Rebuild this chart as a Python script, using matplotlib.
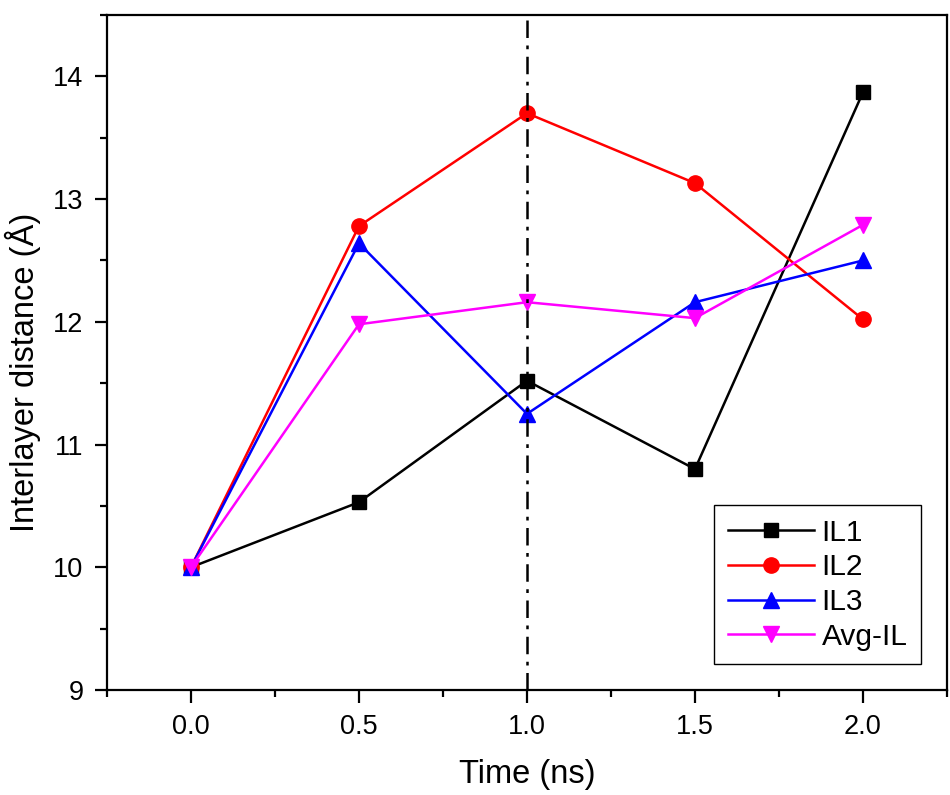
import matplotlib
matplotlib.use('Agg')
import matplotlib.pyplot as plt
from matplotlib.ticker import MultipleLocator, FormatStrFormatter

plt.rcParams['font.family'] = ['Liberation Sans', 'DejaVu Sans']

# data
time_ns = [0.0, 0.5, 1.0, 1.5, 2.0]
il1 = [10.0, 10.53, 11.52, 10.80, 13.87]
il2 = [10.0, 12.78, 13.70, 13.13, 12.02]
il3 = [10.0, 12.64, 11.25, 12.16, 12.50]
avg_il = [10.0, 11.98, 12.16, 12.03, 12.79]
marker_line_x = 1.0

fig = plt.figure(figsize=(9.5, 7.95), dpi=100)
ax = fig.add_axes([0.1126, 0.1321, 0.8842, 0.849])

# vertical dash-dot line
ax.axvline(marker_line_x, color='black', lw=1.8, dashes=(7, 3, 1.5, 3), zorder=5)

ax.plot(time_ns, il1, color='black', marker='s', ms=10, lw=1.8, label='IL1')
ax.plot(time_ns, il2, color='red', marker='o', ms=11, lw=1.8, label='IL2')
ax.plot(time_ns, il3, color='blue', marker='^', ms=12, lw=1.8, label='IL3')
ax.plot(time_ns, avg_il, color='magenta', marker='v', ms=12, lw=1.8, label='Avg-IL')

ax.set_xlim(-0.25, 2.25)
ax.set_ylim(9, 14.5)
ax.xaxis.set_major_locator(MultipleLocator(0.5))
ax.xaxis.set_minor_locator(MultipleLocator(0.25))
ax.yaxis.set_major_locator(MultipleLocator(1))
ax.yaxis.set_minor_locator(MultipleLocator(0.5))
ax.xaxis.set_major_formatter(FormatStrFormatter('%.1f'))

ax.tick_params(which='both', direction='out', width=1.6, labelsize=19.5, top=False, right=False)
ax.tick_params(which='major', length=9, pad=8)
ax.tick_params(which='minor', length=5)
for sp in ax.spines.values():
    sp.set_linewidth(1.6)

ax.set_xlabel('Time (ns)', fontsize=23.5, labelpad=14)
ax.set_ylabel('Interlayer distance (Å)', fontsize=23.5)
ax.yaxis.set_label_coords(-0.079, 0.47)

leg = ax.legend(loc='lower right', bbox_to_anchor=(0.969, 0.0385), borderaxespad=0,
                fontsize=21.5, fancybox=False, framealpha=1, edgecolor='black',
                handlelength=2.9, labelspacing=0.22, borderpad=0.45, handletextpad=0.25)
leg.get_frame().set_linewidth(1.0)

fig.savefig('out.png', dpi=100)
